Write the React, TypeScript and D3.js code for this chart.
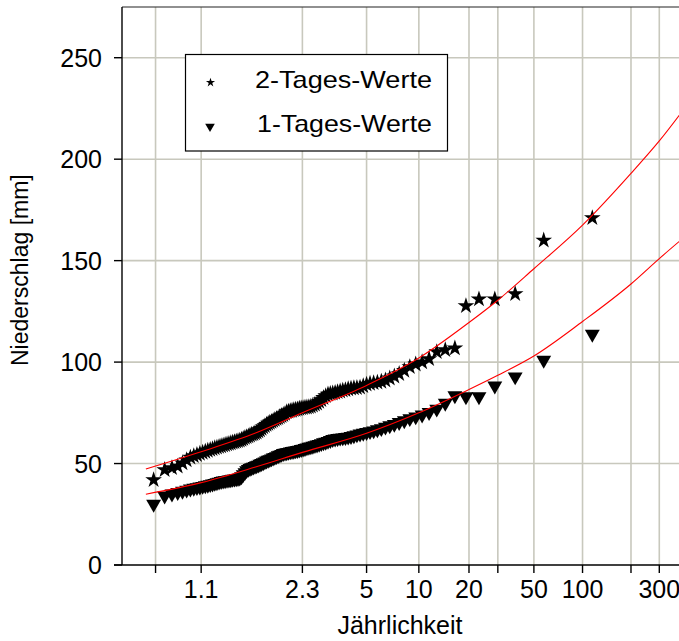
import React from "react";
import * as d3 from "d3";

// ---- data ----
const N_YEARS = 114;

// 2-day maxima, ascending (mm)
const twoDayValues = [
  41.9, 46.9, 47.8, 48.6, 50.2, 51.7, 53.0, 53.7, 54.3, 54.9,
  55.4, 55.9, 56.4, 56.8, 57.2, 57.6, 57.9, 58.3, 58.6, 58.9,
  59.2, 59.5, 59.8, 60.1, 60.4, 60.6, 60.9, 61.1, 61.4, 61.8,
  62.2, 62.7, 63.1, 63.5, 63.9, 64.3, 64.6, 65.0, 65.3, 65.9,
  66.5, 67.2, 67.9, 68.5, 69.2, 69.7, 70.2, 70.6, 71.1, 71.6,
  72.1, 72.5, 73.0, 73.5, 74.0, 74.6, 75.4, 75.7, 75.9, 76.1,
  76.4, 76.6, 76.8, 77.1, 77.3, 77.4, 77.6, 77.7, 77.9, 78.1,
  78.6, 79.1, 79.6, 80.5, 81.4, 82.4, 83.3, 84.1, 84.4, 84.6,
  84.9, 85.3, 85.6, 86.0, 86.3, 86.7, 87.0, 87.2, 87.3, 87.5,
  88.2, 89.0, 89.4, 89.7, 90.0, 90.4, 91.0, 92.0, 93.0, 94.2,
  95.8, 97.6, 98.9, 100.0, 101.6, 105.0, 106.0, 106.8, 127.7, 131.0,
  131.0, 133.6, 160.0, 171.0,
];

// 1-day maxima, ascending (mm)
const oneDayValues = [
  30.0, 34.1, 35.1, 35.8, 36.4, 37.0, 37.5, 37.9, 38.2, 38.5,
  38.8, 39.1, 39.4, 39.7, 40.0, 40.3, 40.6, 40.9, 41.2, 41.5,
  41.6, 41.8, 42.0, 42.1, 42.3, 42.4, 42.6, 42.7, 42.9, 43.6,
  44.6, 45.6, 46.6, 47.2, 47.6, 48.0, 48.3, 48.7, 49.0, 49.3,
  49.7, 50.1, 50.5, 50.9, 51.3, 51.7, 52.0, 52.4, 52.8, 53.1,
  53.5, 53.9, 54.2, 54.6, 55.0, 55.2, 55.4, 55.6, 55.8, 56.0,
  56.1, 56.3, 56.5, 56.7, 57.0, 57.2, 57.5, 57.8, 58.1, 58.3,
  58.6, 58.9, 59.2, 59.5, 59.9, 60.3, 60.6, 61.0, 61.4, 61.9,
  62.2, 62.4, 62.6, 62.7, 62.9, 63.1, 63.4, 63.8, 64.2, 64.6,
  65.0, 65.4, 65.8, 66.2, 66.7, 67.3, 68.0, 68.7, 69.4, 70.3,
  71.2, 72.2, 73.1, 74.0, 75.2, 76.9, 79.8, 83.5, 83.0, 83.0,
  88.3, 92.8, 101.0, 113.8,
];

// fitted distribution curves (return period -> mm)
const fitReturnPeriods = [1.005, 1.1, 1.5, 2.33, 5, 10, 20, 30, 50, 100, 200, 300, 500];
const fitTwoDay = [47.3, 55.8, 65, 75, 88.5, 102, 119.5, 130.5, 146, 167.5, 193, 209, 232];
const fitOneDay = [34.9, 40.6, 48.3, 55.5, 64.9, 75, 86.5, 93.5, 103, 120, 138.5, 151, 166];

// axis ticks
const xTickValues = [1.01, 1.1, 2.33, 5, 10, 20, 30, 50, 100, 200, 300];
const xTickLabels = ["", "1.1", "2.3", "5", "10", "20", "", "50", "100", "", "300"];
const yTickValues = [0, 50, 100, 150, 200, 250];

const legendLabels = ["2-Tages-Werte", "1-Tages-Werte"];

// ---- helpers ----
const gumbel = (T: number) => -Math.log(-Math.log(1 - 1 / T));
const FONT = "'Liberation Sans', Arial, sans-serif";

export default function App() {
  const W = 679;
  const H = 641;
  const left = 122;
  const right = 679;
  const top = 7;
  const bottom = 565;

  const x = d3.scaleLinear().domain([-2.011, 5.985]).range([left, right]);
  const y = d3.scaleLinear().domain([0, 275]).range([bottom, top]);

  // Weibull plotting positions
  const retPeriod = (i: number) => (N_YEARS + 1) / (N_YEARS - i);

  const star = d3.symbol().type(d3.symbolStar).size(86)();
  const tri = d3.symbol().type(d3.symbolTriangle).size(96)();
  const starSmall = d3.symbol().type(d3.symbolStar).size(26)();
  const triSmall = d3.symbol().type(d3.symbolTriangle).size(40)();

  const line = d3
    .line<[number, number]>()
    .x((d) => x(gumbel(d[0])))
    .y((d) => y(d[1]))
    .curve(d3.curveMonotoneX);

  const fit2 = line(fitReturnPeriods.map((t, i) => [t, fitTwoDay[i]]));
  const fit1 = line(fitReturnPeriods.map((t, i) => [t, fitOneDay[i]]));

  const grid = "#c8c8bd";

  return (
    <svg
      width={W}
      height={H}
      style={{ position: "absolute", left: 0, top: 0, background: "#fff" }}
      fontFamily={FONT}
    >
      <defs>
        <clipPath id="plot">
          <rect x={left} y={top} width={right - left} height={bottom - top} />
        </clipPath>
      </defs>
      <rect x={0} y={0} width={W} height={H} fill="#fff" />

      {/* grid */}
      {yTickValues.slice(1).map((v) => (
        <line key={"gy" + v} x1={left} x2={right} y1={y(v)} y2={y(v)} stroke={grid} strokeWidth={1.6} />
      ))}
      {xTickValues.map((t) => (
        <line key={"gx" + t} x1={x(gumbel(t))} x2={x(gumbel(t))} y1={top} y2={bottom} stroke={grid} strokeWidth={1.6} />
      ))}

      {/* frame */}
      <line x1={left} x2={right} y1={top} y2={top} stroke="#222" strokeWidth={1.2} />
      <line x1={left} x2={left} y1={top} y2={bottom} stroke="#000" strokeWidth={1.4} />
      <line x1={left - 8} x2={right} y1={bottom} y2={bottom} stroke="#000" strokeWidth={1.4} />

      {/* y axis ticks */}
      {yTickValues.map((v) => (
        <g key={"ty" + v}>
          <line x1={left - 8} x2={left} y1={y(v)} y2={y(v)} stroke="#000" strokeWidth={1.4} />
          <text x={102} y={y(v) + 9} textAnchor="end" fontSize={25} fill="#000">
            {v}
          </text>
        </g>
      ))}

      {/* x axis ticks */}
      {xTickValues.map((t, i) => (
        <g key={"tx" + t}>
          <line x1={x(gumbel(t))} x2={x(gumbel(t))} y1={bottom} y2={bottom + 8} stroke="#000" strokeWidth={1.4} />
          <text x={x(gumbel(t))} y={597.5} textAnchor="middle" fontSize={25} fill="#000">
            {xTickLabels[i]}
          </text>
        </g>
      ))}

      {/* axis titles */}
      <text x={400} y={634} textAnchor="middle" fontSize={25} fill="#000">
        Jährlichkeit
      </text>
      <text transform="translate(28,366) rotate(-90)" textAnchor="start" fontSize={23} fill="#000">
        Niederschlag [mm]
      </text>

      {/* points */}
      <g clipPath="url(#plot)">
        {twoDayValues.map((v, i) => (
          <path key={"s" + i} d={star!} transform={`translate(${x(gumbel(retPeriod(i)))},${y(v)})`} fill="#000" />
        ))}
        {oneDayValues.map((v, i) => (
          <path
            key={"t" + i}
            d={tri!}
            transform={`translate(${x(gumbel(retPeriod(i)))},${y(v)}) rotate(180)`}
            fill="#000"
          />
        ))}
        <path d={fit2!} fill="none" stroke="#ff0000" strokeWidth={1.1} />
        <path d={fit1!} fill="none" stroke="#ff0000" strokeWidth={1.1} />
      </g>

      {/* legend */}
      <rect x={185.5} y={54.5} width={262} height={96.5} fill="#fff" stroke="#000" strokeWidth={1.2} />
      <path d={starSmall!} transform="translate(210.5,82.5)" fill="#000" />
      <path d={triSmall!} transform="translate(210,126.5) rotate(180)" fill="#000" />
      <text x={255} y={88} fontSize={24} fill="#000" textLength={177} lengthAdjust="spacingAndGlyphs">
        {legendLabels[0]}
      </text>
      <text x={257} y={132} fontSize={24} fill="#000" textLength={175} lengthAdjust="spacingAndGlyphs">
        {legendLabels[1]}
      </text>
    </svg>
  );
}
